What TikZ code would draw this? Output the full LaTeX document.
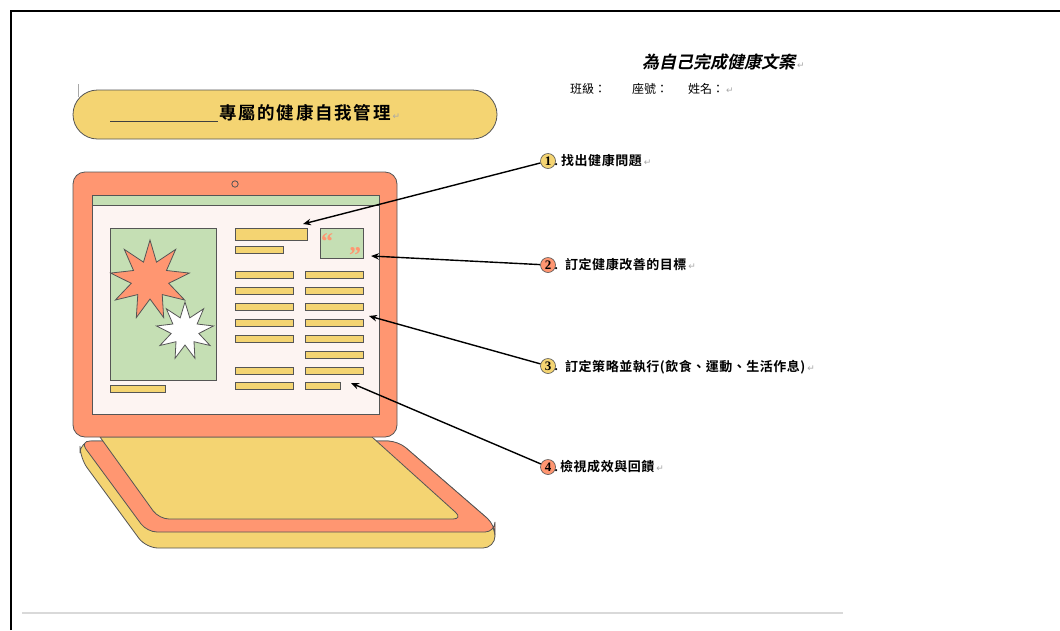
\documentclass[tikz,border=0pt]{standalone}
\usepackage{fontspec}
\usetikzlibrary{arrows.meta}
\newfontfamily\cjk{Noto Sans CJK TC}
\newfontfamily\cjkb{Noto Sans CJK TC Bold}[LetterSpace=4]
\newfontfamily\cjkbw{Noto Sans CJK TC Bold}[LetterSpace=10]
\newfontfamily\cjkbi{Noto Sans CJK TC Bold}[FakeSlant=0.22]
\newfontfamily\sym{DejaVu Sans}
\newfontfamily\numf{Liberation Serif}
\definecolor{salmon}{HTML}{FF9671}
\definecolor{sun}{HTML}{F4D472}
\definecolor{leaf}{HTML}{C5DFB4}
\definecolor{paper}{HTML}{FDF4F2}
\definecolor{edge}{HTML}{555555}
\definecolor{pmark}{HTML}{A8A8A8}
% paragraph return mark
\newcommand\retmark{{\hspace{2pt}\sym\color{pmark}\fontsize{9}{9}\selectfont ↵}}
\tikzset{
  outl/.style={draw=edge, line width=0.8pt},
  txtbar/.style={outl, fill=sun},
  ptr/.style={line width=1.4pt, -{Stealth[length=8pt,width=6.5pt]}},
  numc/.style={circle, draw=edge, line width=0.6pt, minimum size=15pt, inner sep=0pt,
    font=\numf\bfseries\fontsize{13}{13}\selectfont},
  lbl/.style={anchor=west, inner sep=0pt, font=\cjkb\fontsize{13}{13}\selectfont},
  plain/.style={anchor=west, inner sep=0pt, font=\cjk\fontsize{12}{12}\selectfont},
  quote/.style={inner sep=0pt, text=salmon, font=\numf\bfseries\fontsize{24}{24}\selectfont}
}
\begin{document}
\begin{tikzpicture}[x=1pt,y=-1pt]
\useasboundingbox (0,0) rectangle (1060,630);
\fill[white] (0,0) rectangle (1060,630);

% page frame
\draw[line width=1.6pt] (11,630) -- (11,11) -- (1060,11);
\draw[line width=2.5pt, color=black!15] (22,613) -- (843,613);

% header
\node[anchor=west, inner sep=0pt, font=\cjkbi\fontsize{17}{17}\selectfont] (head) at (642,62) {為自己完成健康文案\retmark};
\node[plain] (cls) at (570,89) {班級：};
\node[plain] (seat) at (632,89) {座號：};
\node[plain] (name) at (688,89) {姓名：\retmark};

% title pill
\draw[line width=0.7pt, color=pmark] (78,84) -- (78,97);
\draw[outl, fill=sun, rounded corners=24.5pt] (73,90) rectangle (497,139);
\draw[line width=0.9pt, color=black!75] (110,121) -- (218,121);
\node[anchor=west, inner sep=0pt, font=\cjkbw\fontsize{17.5}{17.5}\selectfont] (title) at (219,113) {專屬的健康自我管理\retmark};

% keyboard base: side, top, pad
\draw[outl, fill=sun, rounded corners=12pt] (80,441) -- (80,458) -- (146,548) -- (495,548) -- (495,525) -- (398,441) -- cycle;
\draw[outl, fill=salmon, rounded corners=10pt] (80,441) -- (147,532) -- (495,532) -- (495,525) -- (398,441) -- cycle;
\draw[outl, fill=sun] (100,437) [rounded corners=10pt] -- (159,519) -- (463,519) [sharp corners] -- (372,437) -- cycle;

% screen
\draw[outl, fill=salmon, rounded corners=12pt] (73,172) rectangle (397,437);
\draw[outl, fill=salmon] (235,184) circle (3.2);
\draw[outl, fill=paper] (92,195) rectangle (379,414);
\draw[outl, fill=leaf] (92,195) rectangle (379,205);

% picture block with bursts
\draw[outl, fill=leaf] (110,228) rectangle (216,380);
\draw[outl, fill=salmon, line join=miter] plot[samples at={0,...,17}, variable=\k]
  ({150+(40-21*mod(\k,2))*cos(90+20*\k)}, {280-(40-21*mod(\k,2))*sin(90+20*\k)}) -- cycle;
\draw[outl, fill=white, line join=miter] plot[samples at={0,...,17}, variable=\k]
  ({185+(29-15*mod(\k,2))*cos(90+20*\k)}, {331-(29-15*mod(\k,2))*sin(90+20*\k)}) -- cycle;
\draw[txtbar] (110,385) rectangle (165,392);

% heading bars and quote box
\draw[txtbar] (235,228) rectangle (307,240);
\draw[txtbar] (235,246) rectangle (283,253);
\draw[outl, fill=leaf] (320,228) rectangle (363,258);
\node[quote] (qo) at (327,242) {“};
\node[quote] (qc) at (355,256) {”};

% text lines
\foreach \yy in {275,291,307,323,339,371} {
  \draw[txtbar] (235,\yy-3.5) rectangle (293,\yy+3.5);
}
\foreach \yy in {275,291,307,323,339,355,371} {
  \draw[txtbar] (305,\yy-3.5) rectangle (363,\yy+3.5);
}
\draw[txtbar] (235,382.5) rectangle (293,389.5);
\draw[txtbar] (305,382.5) rectangle (340,389.5);

% pointer targets on the screen
\coordinate (t1) at (303,224);
\coordinate (t2) at (371,256);
\coordinate (t3) at (369,316);
\coordinate (t4) at (351,383);

% numbered steps
\node[numc, fill=sun] (n1) at (548,161) {1};
\node[numc, fill=salmon] (n2) at (548,265) {2};
\node[numc, fill=sun] (n3) at (548,366) {3};
\node[numc, fill=salmon] (n4) at (548,467) {4};
\foreach \i in {1,...,4} {
  \node[anchor=base west, inner sep=0pt, font=\numf\bfseries\fontsize{13}{13}\selectfont] (d\i) at ([xshift=-1.5pt]n\i.base east) {.};
}
\node[lbl] (l1) at (561,161) {找出健康問題\retmark};
\node[lbl] (l2) at (565,265) {訂定健康改善的目標\retmark};
\node[lbl] (l3) at (565,367) {訂定策略並執行(飲食、運動、生活作息)\retmark};
\node[lbl] (l4) at (560,467) {檢視成效與回饋\retmark};

% pointers
\draw[ptr] (n1) -- (t1);
\draw[ptr] (n2) -- (t2);
\draw[ptr] (n3) -- (t3);
\draw[ptr] (n4) -- (t4);
\end{tikzpicture}
\end{document}
